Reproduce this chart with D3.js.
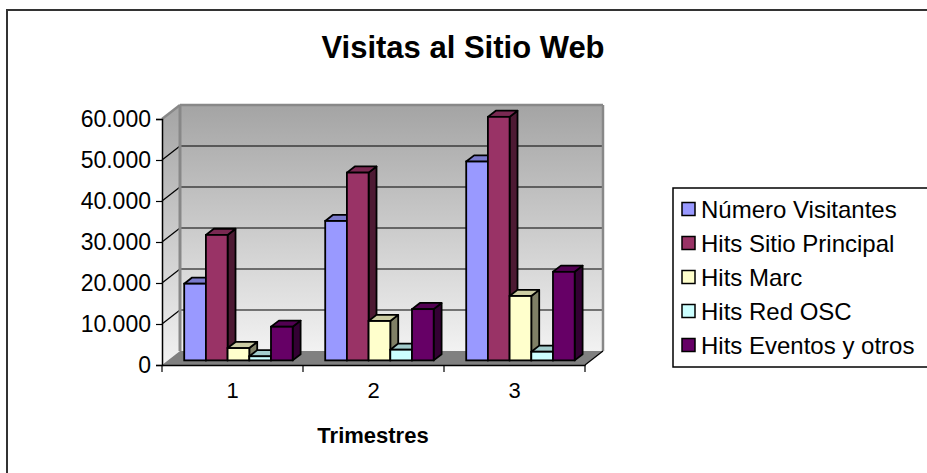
<!DOCTYPE html>
<html>
<head>
<meta charset="utf-8">
<script src="https://cdnjs.cloudflare.com/ajax/libs/d3/7.8.5/d3.min.js"></script>
<style>
  body { margin: 0; background: #fff; }
  text { font-family: "Liberation Sans", Arial, sans-serif; }
</style>
</head>
<body>
<div id="chart"></div>
<script>
// Datos
var categories = ["1", "2", "3"];
var seriesNames = ["Número Visitantes", "Hits Sitio Principal", "Hits Marc", "Hits Red OSC", "Hits Eventos y otros"];
var numeroVisitantes = [18700, 34000, 48500];
var hitsSitioPrincipal = [30600, 45800, 59400];
var hitsMarc = [3000, 9600, 15700];
var hitsRedOSC = [1000, 2600, 2100];
var hitsEventos = [8200, 12500, 21600];
var yTicks = [0, 10000, 20000, 30000, 40000, 50000, 60000];
var seriesColors = ["#9999FF", "#993366", "#FFFFCC", "#CCFFFF", "#660066"];

var allSeries = [numeroVisitantes, hitsSitioPrincipal, hitsMarc, hitsRedOSC, hitsEventos];

// Dimensiones
var width = 927, height = 473;
var depth = {dx: 18, dy: -14};     // profundidad de las paredes
var barFront = 0.33, barBack = 0.77; // posicion de las barras dentro de la profundidad

var svg = d3.select("#chart").append("svg")
    .attr("width", width)
    .attr("height", height);

// marco exterior
svg.append("rect")
    .attr("x", 7).attr("y", 10)
    .attr("width", 940).attr("height", 480)
    .attr("fill", "#fff")
    .attr("stroke", "#333").attr("stroke-width", 2);

// Escalas
var x0 = d3.scaleBand().domain(categories).range([162, 585]).padding(0);
var x1 = d3.scaleBand().domain(d3.range(seriesNames.length))
    .range([0, x0.bandwidth()]).paddingInner(0).paddingOuter(0.75);
var y = d3.scaleLinear().domain([0, 60000]).range([365, 119]);

var fmt = function(v) { return d3.format(",")(v).replace(/,/g, "."); };

// Degradado de las paredes
var defs = svg.append("defs");
var grad = defs.append("linearGradient")
    .attr("id", "wallGrad")
    .attr("x1", "0%").attr("y1", "0%")
    .attr("x2", "0%").attr("y2", "100%");
grad.append("stop").attr("offset", "0%").attr("stop-color", "#a4a4a4");
grad.append("stop").attr("offset", "100%").attr("stop-color", "#f2f2f2");

var xL = x0.range()[0], xR = x0.range()[1];
var yTop = y(60000), yBot = y(0);

function pts(arr) { return arr.map(function(p) { return p.join(","); }).join(" "); }

// pared izquierda
svg.append("polygon")
    .attr("points", pts([[xL, yTop], [xL + depth.dx, yTop + depth.dy], [xL + depth.dx, yBot + depth.dy], [xL, yBot]]))
    .attr("fill", "url(#wallGrad)");

// pared del fondo
svg.append("rect")
    .attr("x", xL + depth.dx).attr("y", yTop + depth.dy)
    .attr("width", xR - xL).attr("height", yBot - yTop)
    .attr("fill", "url(#wallGrad)");

// suelo
svg.append("polygon")
    .attr("points", pts([[xL, yBot], [xL + depth.dx, yBot + depth.dy], [xR + depth.dx, yBot + depth.dy], [xR, yBot]]))
    .attr("fill", "#808080");

// lineas de division
yTicks.forEach(function(t) {
    if (t === 0) return;
    svg.append("line")
        .attr("x1", xL + depth.dx).attr("x2", xR + depth.dx)
        .attr("y1", y(t) + depth.dy).attr("y2", y(t) + depth.dy)
        .attr("stroke", t === 60000 ? "#888" : "#000")
        .attr("stroke-width", t === 60000 ? 2.5 : 1.2);
    svg.append("line")
        .attr("x1", xL).attr("x2", xL + depth.dx)
        .attr("y1", y(t)).attr("y2", y(t) + depth.dy)
        .attr("stroke", t === 60000 ? "#888" : "#000")
        .attr("stroke-width", t === 60000 ? 2.5 : 1.2);
});

// bordes grises de las paredes
svg.append("line")
    .attr("x1", xL + depth.dx).attr("x2", xL + depth.dx)
    .attr("y1", yTop + depth.dy).attr("y2", yBot + depth.dy)
    .attr("stroke", "#888").attr("stroke-width", 3);
svg.append("line")
    .attr("x1", xR + depth.dx).attr("x2", xR + depth.dx)
    .attr("y1", yTop + depth.dy).attr("y2", yBot + depth.dy)
    .attr("stroke", "#888").attr("stroke-width", 2.5);

// Barras 3D
var bdx = (barBack - barFront) * depth.dx, bdy = (barBack - barFront) * depth.dy;
var ox = barFront * depth.dx, oy = barFront * depth.dy;
var bw = x1.bandwidth();

var bars = [];
categories.forEach(function(c, ci) {
    allSeries.forEach(function(s, si) {
        bars.push({cat: c, si: si, value: s[ci]});
    });
});

var barG = svg.append("g").selectAll("g").data(bars).enter().append("g");

barG.each(function(d) {
    var g = d3.select(this);
    var col = d3.rgb(seriesColors[d.si]);
    var xa = x0(d.cat) + x1(d.si) + ox;
    var yt = y(d.value) + oy;
    var yb = y(0) + oy;
    var topCol = d3.rgb(col.r * 0.8, col.g * 0.8, col.b * 0.8);
    var sideCol = d3.rgb(col.r * 0.5, col.g * 0.5, col.b * 0.5);
    g.append("polygon")
        .attr("points", pts([[xa + bw, yt], [xa + bw + bdx, yt + bdy], [xa + bw + bdx, yb + bdy], [xa + bw, yb]]))
        .attr("fill", sideCol).attr("stroke", "#000").attr("stroke-width", 1.8).attr("stroke-linejoin", "round");
    g.append("polygon")
        .attr("points", pts([[xa, yt], [xa + bw, yt], [xa + bw + bdx, yt + bdy], [xa + bdx, yt + bdy]]))
        .attr("fill", topCol).attr("stroke", "#000").attr("stroke-width", 1.8).attr("stroke-linejoin", "round");
    g.append("rect")
        .attr("x", xa).attr("y", yt)
        .attr("width", bw).attr("height", yb - yt)
        .attr("fill", col).attr("stroke", "#000").attr("stroke-width", 1.8);
});

// Eje Y
var yAxis = svg.append("g")
    .attr("transform", "translate(" + xL + ",0)")
    .call(d3.axisLeft(y).tickValues(yTicks).tickSize(6).tickPadding(5).tickFormat(fmt));
yAxis.select(".domain").attr("stroke", "#000").attr("stroke-width", 1.5);
yAxis.selectAll(".tick line").attr("stroke", "#000").attr("stroke-width", 1.2);
yAxis.selectAll(".tick text")
    .attr("font-family", "Liberation Sans, Arial, sans-serif")
    .attr("font-size", 23).attr("fill", "#000");

// Eje X
var xAxis = svg.append("g")
    .attr("transform", "translate(0," + yBot + ")")
    .call(d3.axisBottom(x0).tickSize(0).tickPadding(17));
xAxis.select(".domain").attr("stroke", "#000").attr("stroke-width", 1.5);
xAxis.selectAll(".tick text")
    .attr("font-family", "Liberation Sans, Arial, sans-serif")
    .attr("font-size", 22).attr("fill", "#000");
xAxis.selectAll(".sep").data(d3.range(categories.length + 1)).enter().append("line")
    .attr("x1", function(i) { return xL + i * x0.step(); })
    .attr("x2", function(i) { return xL + i * x0.step(); })
    .attr("y1", 0).attr("y2", 7)
    .attr("stroke", "#000").attr("stroke-width", 1.2);
svg.append("line")
    .attr("x1", xR).attr("y1", yBot)
    .attr("x2", xR + depth.dx).attr("y2", yBot + depth.dy)
    .attr("stroke", "#000").attr("stroke-width", 1.2);

// Titulos
svg.append("text")
    .attr("x", 463).attr("y", 58)
    .attr("text-anchor", "middle")
    .attr("font-weight", "bold").attr("font-size", 31)
    .text("Visitas al Sitio Web");

svg.append("text")
    .attr("x", 373).attr("y", 443)
    .attr("text-anchor", "middle")
    .attr("font-weight", "bold").attr("font-size", 22)
    .text("Trimestres");

// Leyenda
var legend = svg.append("g");
legend.append("rect")
    .attr("x", 673).attr("y", 188)
    .attr("width", 270).attr("height", 179)
    .attr("fill", "#fff").attr("stroke", "#000").attr("stroke-width", 1.5);

var items = legend.selectAll(".item").data(seriesNames).enter().append("g")
    .attr("transform", function(d, i) { return "translate(682," + (209 + i * 34) + ")"; });
items.append("rect")
    .attr("x", 0).attr("y", -6.5)
    .attr("width", 13).attr("height", 13)
    .attr("fill", function(d, i) { return seriesColors[i]; })
    .attr("stroke", "#000").attr("stroke-width", 1.5);
items.append("text")
    .attr("x", 19).attr("y", 8.5)
    .attr("font-size", 24)
    .text(function(d) { return d; });
</script>
</body>
</html>
